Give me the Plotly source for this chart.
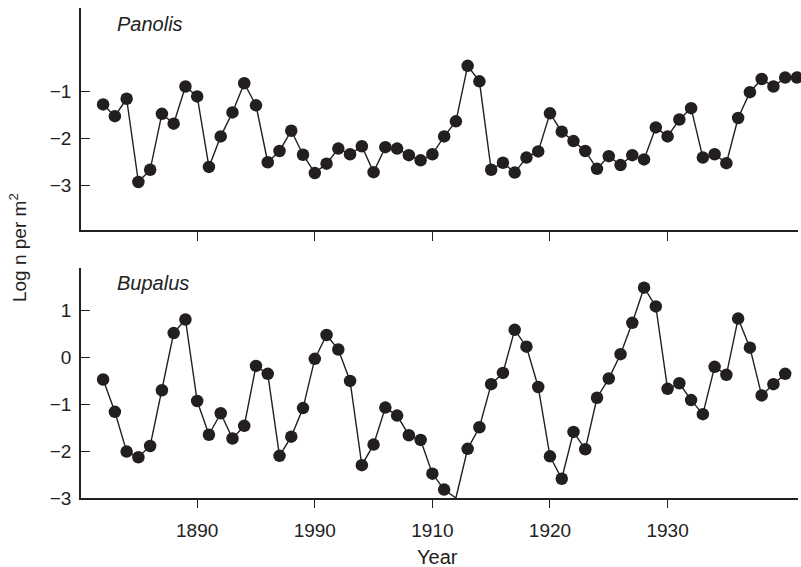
import plotly.graph_objects as go

# ---- data ----
panolis_years = list(range(1882, 1942))
panolis = [-1.27, -1.52, -1.15, -2.92, -2.66, -1.47, -1.68, -0.89, -1.10, -2.60,
           -1.95, -1.44, -0.82, -1.29, -2.50, -2.26, -1.83, -2.34, -2.73, -2.53,
           -2.21, -2.33, -2.16, -2.71, -2.18, -2.21, -2.35, -2.46, -2.33, -1.95,
           -1.63, -0.45, -0.78, -2.66, -2.51, -2.72, -2.40, -2.27, -1.46, -1.85,
           -2.05, -2.26, -2.64, -2.37, -2.56, -2.35, -2.44, -1.76, -1.95, -1.59,
           -1.35, -2.40, -2.33, -2.52, -1.56, -1.01, -0.73, -0.89, -0.70, -0.70]

bupalus_years = list(range(1882, 1941))
bupalus = [-0.47, -1.16, -2.01, -2.13, -1.89, -0.70, 0.52, 0.81, -0.93, -1.65,
           -1.19, -1.73, -1.46, -0.18, -0.35, -2.10, -1.69, -1.08, -0.03, 0.48,
           0.17, -0.50, -2.30, -1.86, -1.07, -1.24, -1.66, -1.76, -2.48, -2.82,
           -3.00, -1.95, -1.49, -0.57, -0.33, 0.59, 0.23, -0.63, -2.11, -2.59,
           -1.59, -1.96, -0.86, -0.45, 0.07, 0.74, 1.49, 1.09, -0.67, -0.55,
           -0.91, -1.21, -0.20, -0.37, 0.83, 0.21, -0.81, -0.57, -0.35]

x_tickvals = [1890, 1900, 1910, 1920, 1930]
x_ticktext = ["1890", "1990", "1910", "1920", "1930"]
top_tickvals = [-1, -2, -3]
bot_tickvals = [1, 0, -1, -2, -3]

# ---- styling ----
INK = "#231f20"
FONT = "Liberation Sans, Arial, sans-serif"
FS = 19
X_RANGE = [1880.12, 1941.09]
TOP_Y = [-3.94, 0.78]
BOT_Y = [-3.0, 1.91]

fig = go.Figure()

def add_series(xs, ys, xa, ya, floor):
    fig.add_trace(go.Scatter(x=xs, y=ys, mode="lines", xaxis=xa, yaxis=ya,
                             line=dict(color=INK, width=1.4), hoverinfo="skip",
                             showlegend=False))
    # markers for points that are inside the plotted range
    my = [v if v > floor else None for v in ys]
    fig.add_trace(go.Scatter(x=xs, y=my, mode="markers", xaxis=xa, yaxis=ya,
                             marker=dict(color=INK, size=12.5), cliponaxis=False,
                             showlegend=False))

add_series(panolis_years, panolis, "x", "y", TOP_Y[0])
add_series(bupalus_years, bupalus, "x2", "y2", BOT_Y[0])

axis_common = dict(showgrid=False, zeroline=False, showline=True, linecolor=INK,
                   linewidth=1.5, tickcolor=INK, tickwidth=1.3,
                   tickfont=dict(family=FONT, size=FS, color="#222"))

fig.update_layout(
    width=801, height=567,
    margin=dict(l=81, r=3, t=8, b=69),
    paper_bgcolor="white", plot_bgcolor="white",
    font=dict(family=FONT, size=FS, color="#222"),
    xaxis=dict(domain=[0, 1], anchor="y", range=X_RANGE, tickvals=x_tickvals,
               ticktext=x_ticktext, ticks="outside", ticklen=9, showticklabels=False,
               **axis_common),
    yaxis=dict(domain=[0.547, 1.0], anchor="x", range=TOP_Y, tickvals=top_tickvals,
               ticks="inside", ticklen=9, ticklabelstandoff=4, **axis_common),
    xaxis2=dict(domain=[0, 1], anchor="y2", range=X_RANGE, tickvals=x_tickvals,
                ticktext=x_ticktext, ticks="outside", ticklen=8, ticklabelstandoff=6,
                **axis_common),
    yaxis2=dict(domain=[0.0, 0.4694], anchor="x2", range=BOT_Y, tickvals=bot_tickvals,
                ticks="inside", ticklen=9, ticklabelstandoff=4, **axis_common),
    annotations=[
        dict(text="<i>Panolis</i>", xref="x domain", yref="y domain", x=0.047, y=0.928,
             xanchor="left", yanchor="middle", showarrow=False,
             font=dict(family=FONT, size=20, color="#222")),
        dict(text="<i>Bupalus</i>", xref="x2 domain", yref="y2 domain", x=0.047, y=0.935,
             xanchor="left", yanchor="middle", showarrow=False,
             font=dict(family=FONT, size=20, color="#222")),
        dict(text="Log n per m<sup>2</sup>", xref="paper", yref="paper", x=-0.088, y=0.512,
             xanchor="center", yanchor="middle", textangle=-90, showarrow=False,
             font=dict(family=FONT, size=FS, color="#222")),
        dict(text="Year", xref="paper", yref="paper", x=0.497, y=-0.12,
             xanchor="center", yanchor="middle", showarrow=False,
             font=dict(family=FONT, size=20, color="#222")),
    ],
)

fig.write_html("out.html", config={"displayModeBar": False},
               post_script="document.body.style.margin='0';")
